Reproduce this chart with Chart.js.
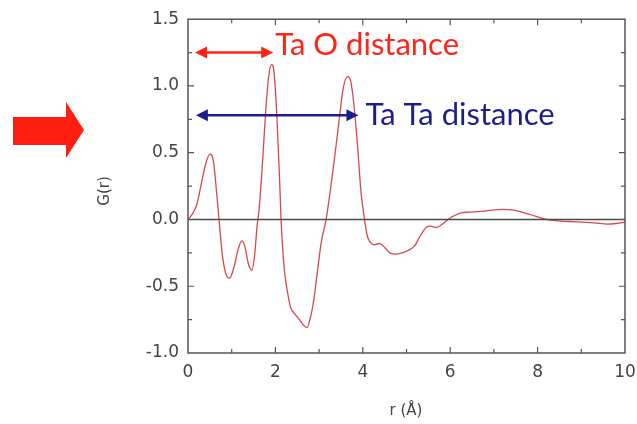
<!DOCTYPE html>
<html>
<head>
<meta charset="utf-8">
<script src="https://cdn.jsdelivr.net/npm/chart.js@4.4.0/dist/chart.umd.min.js"></script>
<style>
  html, body { margin: 0; padding: 0; background: #fff; }
  canvas { display: block; }
</style>
</head>
<body>
<canvas id="gr" width="637" height="424"></canvas>
<script>
// r (Å) and G(r)
const rVals = [0.00, 0.10, 0.20, 0.30, 0.40, 0.50, 0.58, 0.65, 0.71, 0.78, 0.86, 0.95, 1.05, 1.15, 1.23, 1.30, 1.38, 1.46, 1.53, 1.58, 1.62,
  1.70, 1.78, 1.85, 1.91, 1.97, 2.03, 2.09, 2.13, 2.20, 2.27, 2.35, 2.45, 2.55, 2.64, 2.72, 2.79, 2.87, 2.95, 3.05, 3.16,
  3.25, 3.35, 3.45, 3.55, 3.65, 3.72, 3.80, 3.88, 3.96, 4.04, 4.10, 4.17, 4.26, 4.38, 4.50, 4.62, 4.75, 4.90, 5.05, 5.18,
  5.32, 5.45, 5.55, 5.68, 5.80, 5.95, 6.10, 6.25, 6.45, 6.70, 6.95, 7.20, 7.45, 7.70, 7.95, 8.20, 8.45, 8.70, 9.00, 9.30,
  9.60, 9.80, 10.00];
const gVals = [0.00, 0.04, 0.11, 0.26, 0.41, 0.49, 0.44, 0.22, 0.00, -0.25, -0.40, -0.44, -0.36, -0.22, -0.16, -0.20, -0.33, -0.38, -0.25, -0.05, 0.05,
  0.40, 0.82, 1.08, 1.16, 1.10, 0.80, 0.35, 0.00, -0.36, -0.53, -0.66, -0.71, -0.75, -0.79, -0.81, -0.75, -0.62, -0.42, -0.17, 0.00,
  0.20, 0.45, 0.72, 0.98, 1.07, 1.04, 0.85, 0.55, 0.20, 0.00, -0.12, -0.17, -0.19, -0.18, -0.21, -0.25, -0.26, -0.25, -0.23, -0.20,
  -0.12, -0.06, -0.05, -0.06, -0.04, 0.00, 0.03, 0.05, 0.055, 0.06, 0.07, 0.075, 0.07, 0.05, 0.025, 0.00, -0.01, -0.015, -0.02, -0.025,
  -0.035, -0.03, -0.02];

// arrows: [from r, to r, at G]
const taO = [0.16, 1.95, 1.25];
const taTa = [0.18, 3.90, 0.78];
const labelTaO = 'Ta O distance';
const labelTaTa = 'Ta Ta distance';

const xMinor = [1, 3, 5, 7, 9];
const yMinor = [-0.75, -0.25, 0.25, 0.75, 1.25];
const xMajor = [2, 4, 6, 8];
const yMajor = [-0.5, 0, 0.5, 1.0];

const tickFont = { family: 'DejaVu Sans', size: 17 };

function drawArrow(ctx, x1, x2, y, color) {
  const h = 12, w = 6;
  ctx.strokeStyle = color;
  ctx.fillStyle = color;
  ctx.lineWidth = 2.5;
  ctx.beginPath();
  ctx.moveTo(x1 + h - 2, y);
  ctx.lineTo(x2 - h + 2, y);
  ctx.stroke();
  ctx.beginPath();
  ctx.moveTo(x1, y); ctx.lineTo(x1 + h, y - w); ctx.lineTo(x1 + h, y + w); ctx.closePath();
  ctx.fill();
  ctx.beginPath();
  ctx.moveTo(x2, y); ctx.lineTo(x2 - h, y - w); ctx.lineTo(x2 - h, y + w); ctx.closePath();
  ctx.fill();
}

const extras = {
  id: 'extras',
  afterDraw(chart) {
    const ctx = chart.ctx;
    const xs = chart.scales.x, ys = chart.scales.y;
    const a = chart.chartArea;
    ctx.save();

    // frame
    ctx.strokeStyle = '#555';
    ctx.lineWidth = 1.5;
    ctx.strokeRect(a.left, a.top, a.right - a.left, a.bottom - a.top);

    // inward ticks on all four sides
    ctx.lineWidth = 1.2;
    ctx.beginPath();
    xMajor.concat(xMinor).forEach(v => {
      const len = xMajor.includes(v) ? 6 : 4;
      const px = xs.getPixelForValue(v);
      ctx.moveTo(px, a.bottom); ctx.lineTo(px, a.bottom - len);
      ctx.moveTo(px, a.top); ctx.lineTo(px, a.top + len);
    });
    yMajor.concat(yMinor).forEach(v => {
      const len = yMajor.includes(v) ? 6 : 4;
      const py = ys.getPixelForValue(v);
      ctx.moveTo(a.left, py); ctx.lineTo(a.left + len, py);
      ctx.moveTo(a.right, py); ctx.lineTo(a.right - len, py);
    });
    ctx.stroke();

    // axis titles
    ctx.fillStyle = '#444';
    ctx.font = '15px "DejaVu Sans"';
    ctx.textAlign = 'center';
    ctx.textBaseline = 'middle';
    ctx.fillText('r (Å)', 406, 411);
    ctx.save();
    ctx.translate(105, 191);
    ctx.rotate(-Math.PI / 2);
    ctx.fillText('G(r)', 0, 0);
    ctx.restore();

    // distance arrows and labels
    const red = '#ff2418', navy = '#1e1e8a';
    drawArrow(ctx, xs.getPixelForValue(taO[0]), xs.getPixelForValue(taO[1]), ys.getPixelForValue(taO[2]), red);
    drawArrow(ctx, xs.getPixelForValue(taTa[0]), xs.getPixelForValue(taTa[1]), ys.getPixelForValue(taTa[2]), navy);
    ctx.textAlign = 'left';
    ctx.textBaseline = 'alphabetic';
    ctx.font = '31px Lato';
    ctx.fillStyle = red;
    ctx.fillText(labelTaO, xs.getPixelForValue(taO[1]) + 2, ys.getPixelForValue(taO[2]) + 2);
    ctx.fillStyle = navy;
    ctx.fillText(labelTaTa, xs.getPixelForValue(taTa[1]) + 7, ys.getPixelForValue(taTa[2]) + 10);

    // big red arrow on the left
    ctx.fillStyle = '#ff1e10';
    ctx.beginPath();
    ctx.moveTo(13, 117); ctx.lineTo(66, 117); ctx.lineTo(66, 102);
    ctx.lineTo(84, 130); ctx.lineTo(66, 158); ctx.lineTo(66, 145);
    ctx.lineTo(13, 145); ctx.closePath();
    ctx.fill();

    ctx.restore();
  }
};

new Chart(document.getElementById('gr'), {
  type: 'line',
  data: {
    datasets: [
      {
        data: [{ x: 0, y: 0 }, { x: 10, y: 0 }],
        borderColor: '#4a4a4a',
        borderWidth: 1.6,
        pointRadius: 0
      },
      {
        data: rVals.map((r, i) => ({ x: r, y: gVals[i] })),
        borderColor: '#d84650',
        borderWidth: 1.3,
        pointRadius: 0,
        cubicInterpolationMode: 'monotone'
      }
    ]
  },
  options: {
    responsive: false,
    animation: false,
    devicePixelRatio: 1,
    layout: { padding: { top: 18, right: 12, left: 0, bottom: 0 } },
    plugins: { legend: { display: false }, tooltip: { enabled: false } },
    scales: {
      x: {
        type: 'linear',
        min: 0, max: 10,
        grid: { display: false, drawTicks: false },
        border: { display: false },
        ticks: { stepSize: 2, font: tickFont, color: '#444', padding: 9, maxRotation: 0 },
        afterFit: s => { s.height = 71; s.paddingRight = 0; s.paddingLeft = 0; }
      },
      y: {
        min: -1.0, max: 1.5,
        grid: { display: false, drawTicks: false },
        border: { display: false },
        ticks: { stepSize: 0.5, font: tickFont, color: '#444', padding: 9,
          callback: v => v.toFixed(1) },
        afterFit: s => { s.width = 188; }
      }
    }
  },
  plugins: [extras]
});
</script>
</body>
</html>
